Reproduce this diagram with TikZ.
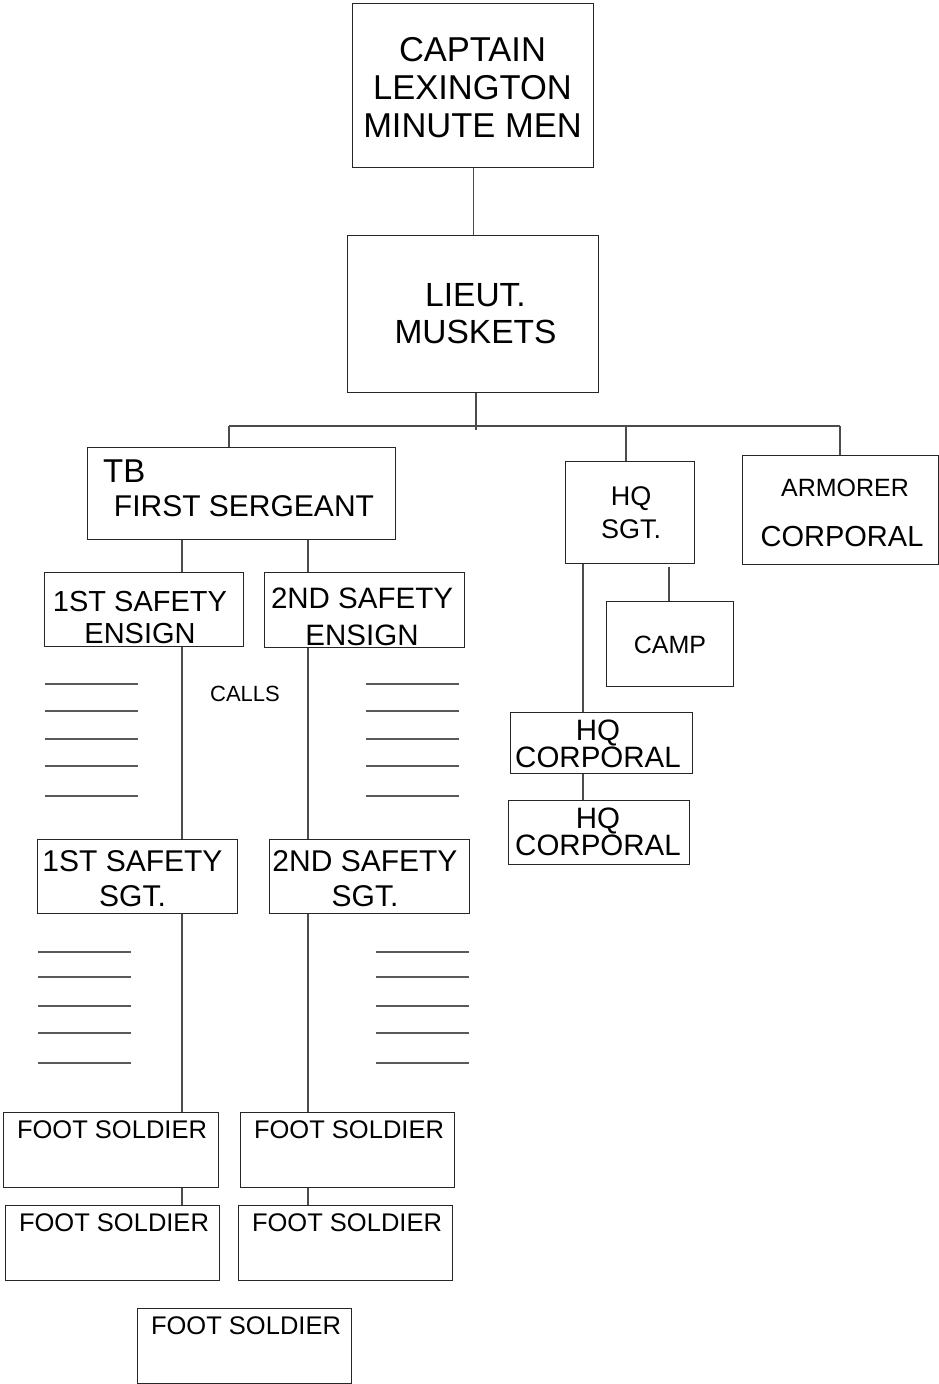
\documentclass[tikz,border=0pt]{standalone}
\usepackage{fontspec}
\setmainfont{Liberation Sans}
\newcommand\obox[5]{\node[box,anchor=north west,minimum width={#4-#2},minimum height={#5-#3}] (#1) at (#2,#3) {};}
\newcommand\fs[2]{\fontsize{#1}{#2}\selectfont}
\begin{document}
\begin{tikzpicture}[x=1pt,y=-1pt,
  box/.style={draw=black!85,line width=1.1pt,inner sep=0pt,fill=none},
  conn/.style={draw=black!70,line width=1.1pt},
  blank/.style={draw=black!65,line width=1.1pt},
  txt/.style={inner sep=0pt,align=center,text=black}]
\useasboundingbox (0,0) rectangle (939,1384);
% boxes
\obox{cap}{352}{3}{593}{167}
\obox{lt}{347}{235}{598}{392}
\obox{fsg}{87}{447}{395}{539}
\obox{hqs}{565}{461}{694}{563}
\obox{arm}{742}{455}{938}{564}
\obox{camp}{606}{601}{733}{686}
\obox{hca}{510}{712}{692}{773}
\obox{hcb}{508}{800}{689}{864}
\obox{ena}{44}{572}{243}{646}
\obox{enb}{264}{572}{464}{647}
\obox{sga}{37}{839}{237}{913}
\obox{sgb}{269}{839}{469}{913}
\obox{fa}{3}{1112}{218}{1187}
\obox{fb}{240}{1112}{454}{1187}
\obox{fc}{5}{1205}{219}{1280}
\obox{fd}{238}{1205}{452}{1280}
\obox{fe}{137}{1308}{351}{1383}
% texts
\node[txt,font=\fs{34.5}{38}] (capT) at (472.5,88) {CAPTAIN\\LEXINGTON\\MINUTE MEN};
\node[txt,font=\fs{33.5}{37}] (ltT) at (475.5,313.5) {LIEUT.\\MUSKETS};
\node[txt,font=\fs{33}{38},anchor=base west] (fsgA) at (103,482) {TB};
\node[txt,font=\fs{30}{34},anchor=base] (fsgB) at (244,516) {FIRST SERGEANT};
\node[txt,font=\fs{27}{33}] (hqsT) at (631,513) {HQ\\SGT.};
\node[txt,font=\fs{25}{30},anchor=base] (armA) at (845,496) {ARMORER};
\node[txt,font=\fs{29}{33},anchor=base] (armB) at (842,546) {CORPORAL};
\node[txt,font=\fs{25}{30},anchor=base] (campT) at (670,653) {CAMP};
\node[txt,font=\fs{29.5}{27}] (hcaT) at (598,743.5) {HQ\\CORPORAL};
\node[txt,font=\fs{29.5}{27}] (hcbT) at (598,831.5) {HQ\\CORPORAL};
\node[txt,font=\fs{29}{32}] (enaT) at (140,617.5) {1ST SAFETY\\ENSIGN};
\node[txt,font=\fs{29.5}{37}] (enbT) at (362,616.5) {2ND SAFETY\\ENSIGN};
\node[txt,font=\fs{30}{35}] (sgaT) at (132.5,878.5) {1ST SAFETY\\SGT.};
\node[txt,font=\fs{30}{35}] (sgbT) at (365,878.5) {2ND SAFETY\\SGT.};
\node[txt,font=\fs{22}{26},anchor=base] (calls) at (245,701) {CALLS};
\node[txt,font=\fs{25.5}{30},anchor=base] (faT) at (112,1138) {FOOT SOLDIER};
\node[txt,font=\fs{25.5}{30},anchor=base] (fbT) at (349,1138) {FOOT SOLDIER};
\node[txt,font=\fs{25.5}{30},anchor=base] (fcT) at (114,1231) {FOOT SOLDIER};
\node[txt,font=\fs{25.5}{30},anchor=base] (fdT) at (347,1231) {FOOT SOLDIER};
\node[txt,font=\fs{25.5}{30},anchor=base] (feT) at (246,1334) {FOOT SOLDIER};
% column coordinates
\coordinate (colA) at (182,0);
\coordinate (colB) at (308,0);
\coordinate (colH) at (583,0);
\coordinate (colC) at (669,0);
\coordinate (colL) at (476,0);
\coordinate (colS) at (229,0);
\coordinate (colQ) at (626,0);
\coordinate (colR) at (840,0);
\coordinate (busL) at (229,426);
\coordinate (busR) at (840,426);
\coordinate (busE) at (476,430);
\coordinate (campS) at (669,567);
% connectors
\draw[conn] (cap.south) -- (lt.north);
\draw[conn] (lt.south -| colL) -- (busE);
\draw[conn] (busL) -- (busR);
\draw[conn] (busL) -- (fsg.north -| colS);
\draw[conn] (busL -| colQ) -- (hqs.north -| colQ);
\draw[conn] (busR) -- (arm.north -| colR);
\draw[conn] (fsg.south -| colA) -- (ena.north -| colA);
\draw[conn] (fsg.south -| colB) -- (enb.north -| colB);
\draw[conn] (ena.south -| colA) -- (sga.north -| colA);
\draw[conn] (enb.south -| colB) -- (sgb.north -| colB);
\draw[conn] (sga.south -| colA) -- (fa.north -| colA);
\draw[conn] (sgb.south -| colB) -- (fb.north -| colB);
\draw[conn] (fa.south -| colA) -- (fc.north -| colA);
\draw[conn] (fb.south -| colB) -- (fd.north -| colB);
\draw[conn] (hqs.south -| colH) -- (hca.north -| colH);
\draw[conn] (hca.south -| colH) -- (hcb.north -| colH);
\draw[conn] (campS) -- (camp.north -| colC);
% blank lines
\foreach \y in {684,711,739,766,796}{
  \draw[blank] (45,\y) -- (138,\y);
  \draw[blank] (366,\y) -- (459,\y);
}
\foreach \y in {952,977,1006,1033,1063}{
  \draw[blank] (38,\y) -- (131,\y);
  \draw[blank] (376,\y) -- (469,\y);
}
\end{tikzpicture}
\end{document}
